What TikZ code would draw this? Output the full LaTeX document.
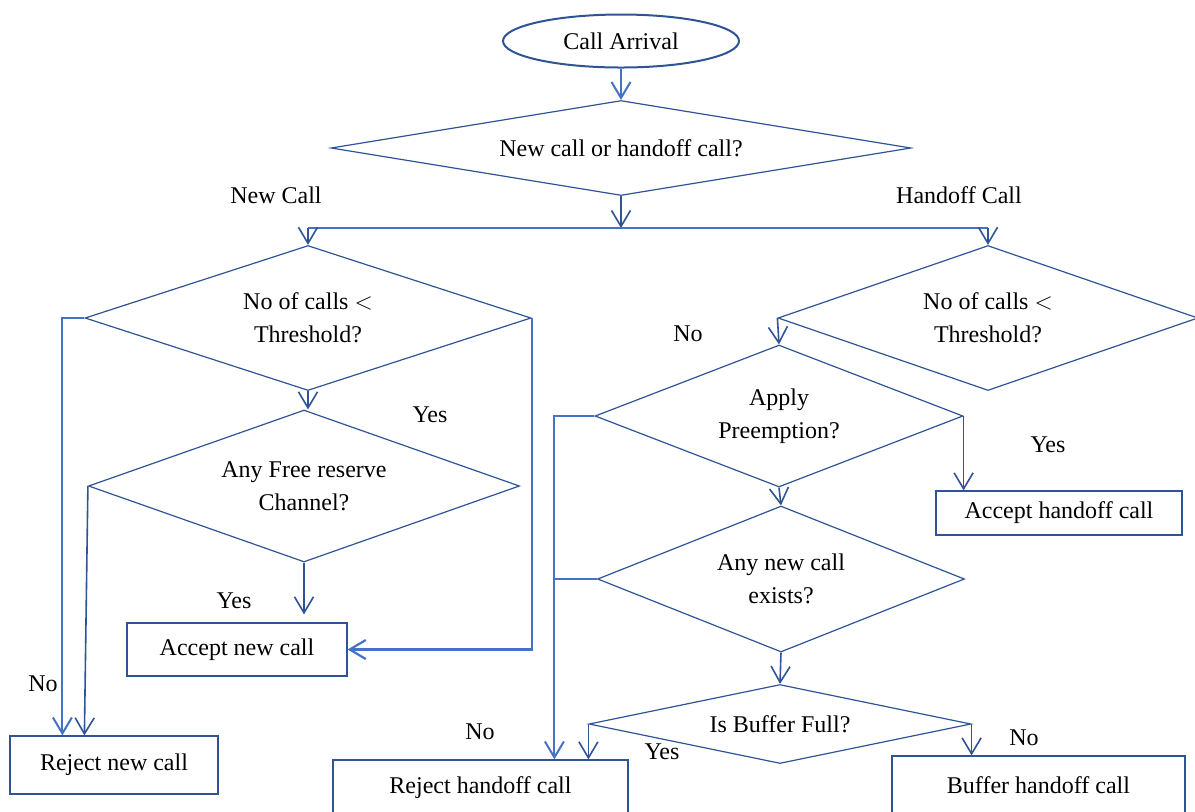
\documentclass[tikz,border=0pt]{standalone}
\usepackage{fontspec}
\setmainfont{Liberation Serif}
\usetikzlibrary{shapes.geometric,arrows.meta,calc}
\definecolor{flowdark}{RGB}{47,84,150}
\definecolor{flowlight}{RGB}{68,114,196}

\begin{document}
\begin{tikzpicture}[x=0.5pt,y=-0.5pt,
  every node/.style={font=\fontsize{12}{16.5}\selectfont, align=center},
  decision/.style={diamond, draw=flowdark, line width=0.6pt, inner sep=0pt},
  outcome/.style={rectangle, draw=flowdark, line width=0.6pt, inner sep=0pt},
  darkarrow/.style={draw=flowdark, line width=0.8pt, -{Straight Barb[length=8pt,width=9.5pt]}},
  lightarrow/.style={draw=flowlight, line width=1pt, -{Straight Barb[length=8pt,width=9.5pt]}},
  lightline/.style={draw=flowlight, line width=1.1pt}]
\useasboundingbox (0,0) rectangle (1195,811);
\clip (0,0) rectangle (1195,811);

% start and first decision
\node[ellipse, draw=flowdark, line width=1pt, inner sep=0pt,
      minimum width=118pt, minimum height=26.5pt] (arrival) at (621,41) {Call Arrival};
\node[decision, shape aspect=6, minimum width=290pt, minimum height=47.5pt] (kind) at (621,148) {New call or handoff call?};
\coordinate (split) at (621,228);

% new call side
\node[decision, shape aspect=3, minimum width=223pt, minimum height=72.5pt] (newthr) at (308,318) {No of calls $<$\\Threshold?};
\node[decision, shape aspect=2.8, minimum width=215.5pt, minimum height=76pt] (freeres) at (304,486) {Any Free reserve\\Channel?};
\node[outcome, minimum width=110pt, minimum height=26.5pt] (accnew) at (237,649.5) {Accept new call};
\node[outcome, minimum width=104pt, minimum height=29pt] (rejnew) at (114,765) {Reject new call};

% handoff side
\node[decision, shape aspect=3, minimum width=210pt, minimum height=72.5pt] (hofthr) at (988,318) {No of calls $<$\\Threshold?};
\node[decision, shape aspect=2.6, minimum width=184pt, minimum height=71pt] (preempt) at (779,416) {Apply\\Preemption?};
\node[decision, shape aspect=2.5, minimum width=183.5pt, minimum height=73pt] (anynew) at (781,579) {Any new call\\exists?};
\node[decision, shape aspect=4.8, minimum width=191pt, minimum height=39.5pt] (buffull) at (780,724) {Is Buffer Full?};
\node[outcome, minimum width=123pt, minimum height=22pt] (acchof) at (1059,513) {Accept handoff call};
\node[outcome, minimum width=147.5pt, minimum height=27.5pt] (rejhof) at (480.5,787.5) {Reject handoff call};
\node[outcome, minimum width=146.5pt, minimum height=29.5pt] (bufhof) at (1038.5,785.5) {Buffer handoff call};

% labels
\node (lblnew) at (276,195) {New Call};
\node (lblhof) at (959,195) {Handoff Call};
\node (yes1) at (430,415) {Yes};
\node (yes2) at (234,601) {Yes};
\node (no1) at (43,684) {No};
\node (no2) at (688,334) {No};
\node (yes3) at (1048,445) {Yes};
\node (no3) at (480,732) {No};
\node (yes4) at (662,752) {Yes};
\node (no4) at (1024,738) {No};

% connectors
\draw[lightarrow] (arrival) -- (kind);
\draw[darkarrow] (kind.south) -- (split);
\draw[lightline] (split -| newthr.north) -- (split -| hofthr.north);
\draw[darkarrow] (split -| newthr.north) -- (newthr.north);
\draw[darkarrow] (split -| hofthr.north) -- (hofthr.north);

\draw[lightarrow] (newthr.west) -| ($(rejnew.north west)+(53,0)$);
\draw[darkarrow] (freeres.west) -- ($(rejnew.north west)+(75,0)$);
\draw[darkarrow] (newthr.south) -- (newthr.south |- freeres.north);
\draw[darkarrow, shorten >=4pt] (freeres.south) -- (freeres.south |- accnew.north);
\draw[lightarrow, line width=1.1pt] (newthr.east) |- (accnew.east);

\draw[darkarrow] (hofthr.west) -- (preempt.north);
\draw[darkarrow] (preempt.east) -- (preempt.east |- acchof.north);
\draw[darkarrow] (preempt.south) -- (anynew.north);
\coordinate (hofno) at ($(rejhof.north west)+(222,0)$);
\draw[lightarrow] (preempt.west) -| (hofno);
\draw[lightline] (anynew.west) -- (anynew.west -| hofno);
\draw[darkarrow] (anynew.south) -- (buffull.north);
\draw[darkarrow] (buffull.west) -- (buffull.west |- rejhof.north);
\draw[darkarrow] (buffull.east) -- (buffull.east |- bufhof.north);
\end{tikzpicture}
\end{document}
